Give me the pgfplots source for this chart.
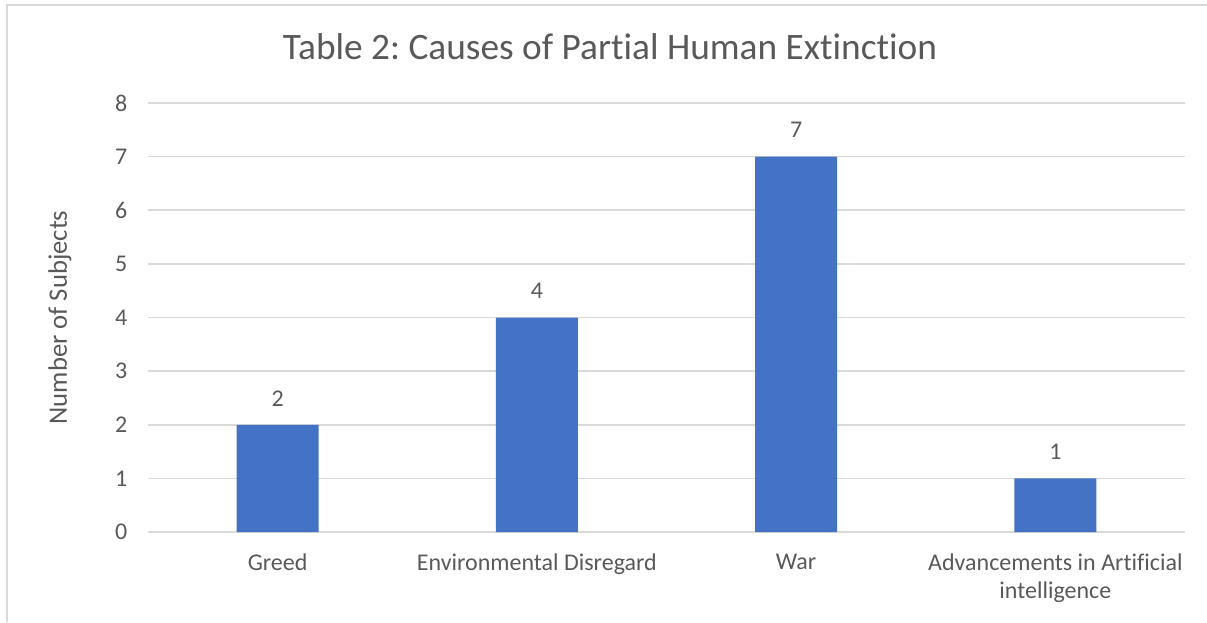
\documentclass[border=0pt]{standalone}
\usepackage{pgfplots}
\pgfplotsset{compat=1.18}
\usepackage{fontspec}
\setmainfont{Carlito}[Ligatures=NoCommon]
\frenchspacing
\definecolor{barblue}{HTML}{4472C4}
\definecolor{txtgray}{HTML}{595959}
\definecolor{gridgray}{HTML}{D9D9D9}
\begin{document}
\begin{tikzpicture}[x=0.75pt,y=0.75pt]
  % page frame (1207 x 622 px at 0.75pt per px)
  \path[use as bounding box] (0,0) rectangle (1207,622);
  \draw[gridgray, line width=1.5pt] (7,0) -- (7,617) -- (1207,617);
  \begin{axis}[
      at={(111pt,67.5pt)}, anchor=south west,
      scale only axis,
      width=777.75pt, height=321.75pt,
      xmin=-0.5, xmax=3.5,
      ymin=0, ymax=8,
      ytick={0,1,...,8},
      xtick=data,
      xticklabels={Greed, Environmental Disregard, War, {Advancements in Artificial\\intelligence}},
      xticklabel style={align=center, font=\fontsize{18}{21}\selectfont, text=txtgray, yshift=-13pt},
      yticklabel style={font=\fontsize{18}{21}\selectfont, text=txtgray, xshift=-12pt},
      /pgf/number format/assume math mode=true,
      axis line style={draw=none},
      axis x line*=bottom,
      x axis line style={draw=gridgray, line width=1.2pt},
      major tick length=0pt,
      ymajorgrids, grid style={gridgray, line width=1.2pt},
      ybar, bar width=61.5pt,
      nodes near coords,
      nodes near coords style={font=\fontsize{18}{21}\selectfont, text=txtgray, yshift=10.5pt},
      title={Table 2: Causes of Partial Human Extinction},
      title style={at={(axis description cs:0.4455,1.112)}, anchor=center,
                   font=\fontsize{28}{33}\selectfont, text=txtgray},
      ylabel={Number of Subjects},
      ylabel style={at={(axis description cs:-0.0849,0.5)}, anchor=center,
                    font=\fontsize{20}{24}\selectfont, text=txtgray},
    ]
    \addplot[fill=barblue, draw=none] coordinates {(0,2) (1,4) (2,7) (3,1)};
  \end{axis}
\end{tikzpicture}
\end{document}
